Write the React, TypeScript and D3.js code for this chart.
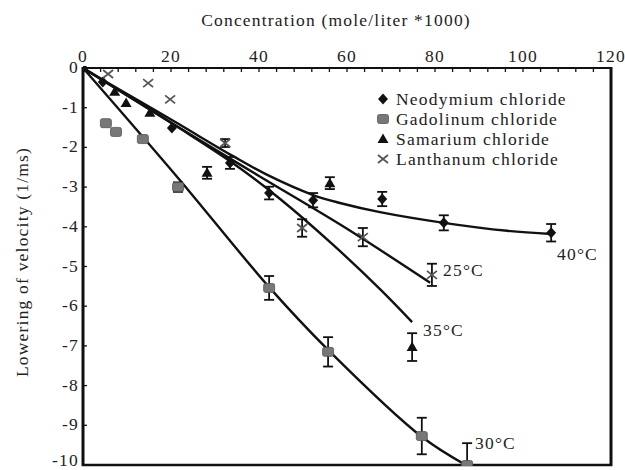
import React from "react";
import * as d3 from "d3";

// ---- data ----
const xTicks = [0, 20, 40, 60, 80, 100, 120];
const yTicks = [0, -1, -2, -3, -4, -5, -6, -7, -8, -9, -10];

// [concentration, lowering, errorHalf]
const neodymium: [number, number, number][] = [
  [0, 0, 0], [4.5, -0.35, 0], [20.2, -1.51, 0], [33.4, -2.39, 0.15], [42.3, -3.15, 0.16],
  [52.3, -3.33, 0.18], [68, -3.3, 0.18], [82, -3.9, 0.19], [106.4, -4.15, 0.22],
];
const gadolinium: [number, number, number][] = [
  [5.2, -1.39, 0], [7.5, -1.61, 0], [13.6, -1.79, 0], [21.6, -3.0, 0.12], [42.3, -5.54, 0.3],
  [55.7, -7.15, 0.37], [77, -9.27, 0.46], [87.3, -10.0, 0.55],
];
const samarium: [number, number, number][] = [
  [7.2, -0.6, 0], [9.8, -0.88, 0], [15.2, -1.13, 0], [28.2, -2.64, 0.15], [56.1, -2.9, 0.15],
  [74.8, -7.03, 0.35],
];
const lanthanum: [number, number, number][] = [
  [5.7, -0.15, 0], [14.8, -0.38, 0], [19.8, -0.79, 0], [32.3, -1.89, 0.1], [49.8, -4.03, 0.22],
  [63.6, -4.26, 0.23], [79.3, -5.21, 0.28],
];

// fitted curves
const fit40: [number, number][] = [
  [0, 0], [6.8, -0.45], [20.5, -1.33], [34.1, -2.22], [42, -2.7], [52.3, -3.2], [58.4, -3.4],
  [67.5, -3.63], [82, -3.9], [96.4, -4.1], [106.4, -4.18],
];
const fit25: [number, number][] = [
  [0, 0], [20, -1.38], [40, -2.72], [60, -4.05], [78.9, -5.41],
];
const fit35: [number, number][] = [
  [0, 0], [11.4, -0.78], [22, -1.52], [34.1, -2.4], [44.8, -3.3], [56.8, -4.45], [67.5, -5.57], [74.8, -6.4],
];
const fit30: [number, number][] = [
  [0, 0], [21.6, -2.77], [42.3, -5.52], [55.7, -7.1], [77, -9.29], [87.3, -10.02],
];

const curveLabels = [
  { text: "40°C", x: 557, y: 254 },
  { text: "25°C", x: 443, y: 270 },
  { text: "35°C", x: 423, y: 330 },
  { text: "30°C", x: 475, y: 443 },
];

const legendItems = [
  { name: "Neodymium chloride", kind: "diamond" },
  { name: "Gadolinum chloride", kind: "square" },
  { name: "Samarium chloride", kind: "triangle" },
  { name: "Lanthanum chloride", kind: "cross" },
];

const FONT = "'Liberation Serif', 'Times New Roman', serif";
const FS = 17.5;
const LS = 1.2;
const TXT = "#222";

function Marker({ kind, cx, cy }: { kind: string; cx: number; cy: number }) {
  if (kind === "diamond") {
    return <path d={`M${cx},${cy - 5.5}L${cx + 5},${cy}L${cx},${cy + 5.5}L${cx - 5},${cy}Z`} fill="#111" />;
  }
  if (kind === "square") {
    return <rect x={cx - 5.5} y={cy - 4.5} width={11} height={9} rx={2} fill="#777" stroke="#555" strokeWidth={0.8} />;
  }
  if (kind === "triangle") {
    return <path d={`M${cx},${cy - 5.5}L${cx + 5.5},${cy + 4}L${cx - 5.5},${cy + 4}Z`} fill="#111" />;
  }
  return (
    <g stroke="#555" strokeWidth={1.8} fill="none">
      <path d={`M${cx - 5},${cy - 4}L${cx + 5},${cy + 4}M${cx + 5},${cy - 4}L${cx - 5},${cy + 4}`} />
    </g>
  );
}

export default function App() {
  const W = 625, H = 470;
  const x = d3.scaleLinear().domain([0, 120]).range([83, 611]);
  const y = d3.scaleLinear().domain([0, -10]).range([68, 465]);

  const line = d3
    .line<[number, number]>()
    .x((d) => x(d[0]))
    .y((d) => y(d[1]))
    .curve(d3.curveCatmullRom.alpha(0.5));

  const series = [
    { data: neodymium, kind: "diamond" },
    { data: gadolinium, kind: "square" },
    { data: samarium, kind: "triangle" },
    { data: lanthanum, kind: "cross" },
  ];

  const minorX = d3.range(0, 121, 4);
  const tp = { fontFamily: FONT, fontSize: FS, fill: TXT, letterSpacing: LS };

  return (
    <svg width={W} height={H} style={{ position: "absolute", left: 0, top: 0, background: "#fff" }}>
      <defs>
        <clipPath id="plot">
          <rect x={83} y={66} width={528} height={400} />
        </clipPath>
      </defs>
      {/* title */}
      <text x={336} y={26} textAnchor="middle" {...tp}>
        Concentration (mole/liter *1000)
      </text>
      {/* y title */}
      <text transform={`translate(28,262) rotate(-90)`} textAnchor="middle" {...tp}>
        Lowering of velocity (1/ms)
      </text>

      {/* top tick labels */}
      {xTicks.map((t) => (
        <text key={t} x={x(t)} y={62} textAnchor="middle" {...tp}>
          {t}
        </text>
      ))}
      {/* left tick labels */}
      {yTicks.map((t) => (
        <text key={t} x={79} y={Math.min(y(t) + 5, 466)} textAnchor="end" {...tp}>
          {t}
        </text>
      ))}

      {/* ticks */}
      {minorX.map((t) => (
        <line key={t} x1={x(t)} x2={x(t)} y1={68} y2={72} stroke="#111" strokeWidth={1.3} />
      ))}
      {yTicks.map((t) => (
        <line key={t} x1={83} x2={87} y1={y(t)} y2={y(t)} stroke="#111" strokeWidth={1.3} />
      ))}

      {/* frame */}
      <line x1={82} x2={612} y1={68} y2={68} stroke="#111" strokeWidth={2.2} />
      <line x1={83} x2={83} y1={67} y2={466} stroke="#111" strokeWidth={3} />
      <line x1={611} x2={611} y1={67} y2={466} stroke="#111" strokeWidth={3} />
      <line x1={82} x2={612} y1={465} y2={465} stroke="#111" strokeWidth={2.5} />

      {/* fitted curves */}
      <g clipPath="url(#plot)" fill="none" stroke="#111" strokeWidth={2.4}>
        <path d={line(fit40) || ""} />
        <path d={line(fit25) || ""} />
        <path d={line(fit35) || ""} />
        <path d={line(fit30) || ""} />
      </g>

      {/* error bars and markers */}
      <g clipPath="url(#plot)">
        {series.map((s) =>
          s.data.map((d, i) =>
            d[2] > 0 ? (
              <g key={s.kind + "e" + i} stroke="#111" strokeWidth={1.8}>
                <line x1={x(d[0])} x2={x(d[0])} y1={y(d[1] + d[2])} y2={y(d[1] - d[2])} />
                <line x1={x(d[0]) - 5} x2={x(d[0]) + 5} y1={y(d[1] + d[2])} y2={y(d[1] + d[2])} />
                <line x1={x(d[0]) - 5} x2={x(d[0]) + 5} y1={y(d[1] - d[2])} y2={y(d[1] - d[2])} />
              </g>
            ) : null
          )
        )}
        {series.map((s) =>
          s.data.map((d, i) => <Marker key={s.kind + i} kind={s.kind} cx={x(d[0])} cy={y(d[1])} />)
        )}
      </g>

      {/* curve labels */}
      {curveLabels.map((c) => (
        <text key={c.text} x={c.x} y={c.y + 6} {...tp}>
          {c.text}
        </text>
      ))}

      {/* legend */}
      {legendItems.map((it, i) => (
        <g key={it.name}>
          <Marker kind={it.kind} cx={383} cy={99 + i * 20} />
          <text x={396} y={99 + i * 20 + 5.5} {...tp}>
            {it.name}
          </text>
        </g>
      ))}
    </svg>
  );
}
